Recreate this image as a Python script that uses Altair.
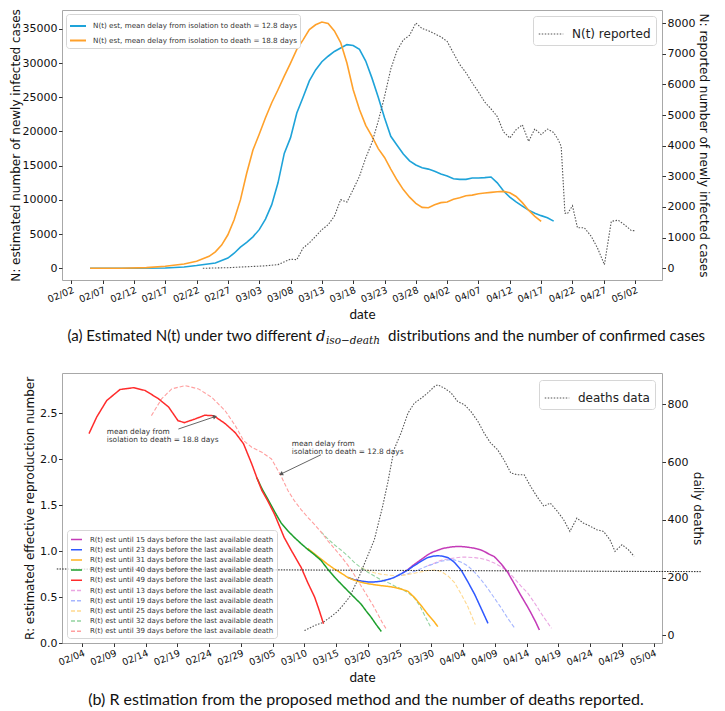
import altair as alt
import pandas as pd

# ====================== Panel (a) data ======================
A_START = "2020-02-02"           # day 0 of panel (a) day offsets
a_tick_labels = ["02/02", "02/07", "02/12", "02/17", "02/22", "02/27", "03/03", "03/08",
                 "03/13", "03/18", "03/23", "03/28", "04/02", "04/07", "04/12", "04/17",
                 "04/22", "04/27", "05/02"]

est128_days = [3, 10, 15, 18, 20, 23, 25, 26, 27, 28, 29, 30, 31, 32, 33, 34, 35, 36, 37, 38,
               39, 40, 41, 42, 43, 44, 45, 46, 47, 48, 49, 50, 51, 52, 53, 54, 55, 56, 57, 58,
               59, 60, 61, 62, 63, 64, 65, 66, 67, 68, 69, 70, 71, 72, 73, 74, 75, 76, 77]
est128_vals = [0, 0, 50, 200, 400, 780, 1500, 2200, 3100, 3800, 4600, 5650, 7200, 9300, 12500,
               16800, 19100, 22700, 25000, 27400, 29000, 30200, 31000, 31700, 32200, 32700, 32560,
               32000, 30300, 27800, 25000, 22000, 19300, 18000, 16700, 15700, 15100, 14700, 14500,
               14200, 13800, 13500, 13100, 13000, 13000, 13200, 13200, 13250, 13350, 12500, 11300,
               10400, 9700, 9100, 8500, 8050, 7700, 7400, 6900]

est188_days = [3, 8, 12, 15, 18, 20, 22, 23, 24, 25, 26, 27, 28, 29, 30, 31, 32, 33, 34, 35, 36,
               37, 38, 39, 40, 41, 42, 43, 44, 45, 46, 47, 48, 49, 50, 51, 52, 53, 54, 55, 56, 57,
               58, 59, 60, 61, 62, 63, 64, 65, 66, 67, 68, 69, 70, 71, 72, 73, 74, 75]
est188_vals = [0, 10, 100, 290, 630, 1020, 1750, 2400, 3400, 4900, 7100, 10000, 13900, 17300,
               19600, 22000, 24200, 26100, 28100, 30000, 32000, 33400, 34900, 35600, 36000, 35800,
               34700, 33000, 30000, 26100, 23200, 20900, 19300, 17500, 16200, 14500, 12900, 11500,
               10400, 9500, 8900, 8850, 9300, 9600, 9700, 10100, 10300, 10600, 10700, 10900, 11000,
               11100, 11200, 11250, 11050, 10500, 9600, 8500, 7600, 6850]

rep_days = [21, 23, 25, 27, 29, 31, 33, 35, 36, 37, 38, 39, 40, 41, 42, 43, 44, 45, 46, 47, 48,
            49, 50, 51, 52, 53, 54, 55, 56, 57, 58, 59, 60, 61, 62, 63, 64, 65, 66, 67, 68, 69,
            70, 71, 72, 73, 74, 75, 76, 77, 77.7, 78.2, 78.8, 79.2, 80, 80.8, 81.9, 83, 84, 85.1,
            86.2, 87.3, 88.3, 89.4, 89.9]
rep_vals = [0, 10, 20, 40, 60, 80, 120, 300, 280, 660, 830, 1040, 1260, 1420, 1700, 2240, 2160,
            2570, 3000, 3600, 4100, 4800, 5600, 6500, 7100, 7450, 7600, 8000, 7820, 7750, 7650,
            7550, 7400, 7020, 6650, 6380, 6050, 5750, 5420, 5200, 4950, 4450, 4250, 4520, 4680,
            4140, 4550, 4360, 4540, 4430, 4200, 3980, 1800, 1780, 2040, 1320, 1320, 1040, 660,
            120, 1530, 1570, 1420, 1230, 1230]

est_labels = ["N(t) est, mean delay from isolation to death = 12.8 days",
              "N(t) est, mean delay from isolation to death = 18.8 days"]
est_colors = ["#1ea3d9", "#ffa12b"]
rep_label = "N(t) reported"

# ====================== Panel (b) data ======================
B_START = "2020-02-04"           # day 0 of panel (b) day offsets
b_tick_labels = ["02/04", "02/09", "02/14", "02/19", "02/24", "02/29", "03/05", "03/10",
                 "03/15", "03/20", "03/25", "03/30", "04/04", "04/09", "04/14", "04/19",
                 "04/24", "04/29", "05/04"]

r49_days = [1.07, 2.28, 3.86, 5.95, 8.06, 9.9, 12.0, 13.6, 15.1, 16.1, 17.8, 19.3, 20.7, 22.5,
            24.1, 25.4, 26.7, 27.5, 28.3, 29.2, 30.3, 31.8, 33.0, 34.5, 35.5, 36.6, 37.3, 38.0]
r49_vals = [2.28, 2.46, 2.64, 2.76, 2.78, 2.75, 2.66, 2.57, 2.42, 2.40, 2.44, 2.48, 2.475, 2.39,
            2.29, 2.17, 1.95, 1.80, 1.66, 1.55, 1.40, 1.15, 1.00, 0.82, 0.66, 0.50, 0.36, 0.21]

r40_days = [27.5, 28.3, 29.2, 30.3, 31.3, 32.4, 33.4, 34.5, 35.5, 36.6, 37.6, 38.6, 39.7, 40.8,
            41.8, 42.8, 43.9, 44.7, 45.5, 46.3, 47.1]
r40_vals = [1.80, 1.68, 1.57, 1.43, 1.31, 1.22, 1.15, 1.08, 1.02, 0.96, 0.90, 0.81, 0.72, 0.64,
            0.57, 0.50, 0.425, 0.35, 0.28, 0.20, 0.126]

r31_days = [35.5, 36.6, 37.6, 38.6, 39.7, 40.8, 41.8, 42.8, 43.9, 45.0, 46.0, 47.0, 48.1, 49.2,
            50.2, 51.3, 52.3, 53.4, 54.4, 55.5, 56.0]
r31_vals = [1.03, 0.97, 0.915, 0.86, 0.806, 0.76, 0.715, 0.685, 0.661, 0.645, 0.635, 0.625,
            0.617, 0.605, 0.588, 0.563, 0.497, 0.406, 0.315, 0.225, 0.178]

r23_days = [41.8, 42.8, 43.9, 45.0, 46.0, 47.0, 48.1, 49.0, 49.6, 50.5, 51.3, 52.0, 52.8, 53.6,
            54.4, 55.2, 56.0, 56.8, 57.6, 58.6, 59.7, 60.7, 61.8, 62.8, 63.9]
r23_vals = [0.715, 0.69, 0.675, 0.665, 0.665, 0.672, 0.69, 0.71, 0.73, 0.765, 0.795, 0.83, 0.865,
            0.90, 0.93, 0.945, 0.951, 0.945, 0.93, 0.88, 0.79, 0.67, 0.53, 0.38, 0.214]

r15_days = [50.5, 51.3, 52.0, 52.8, 53.6, 54.4, 55.2, 56.0, 56.8, 57.6, 58.3, 58.9, 59.6, 60.2,
            61.0, 61.5, 62.2, 62.8, 63.5, 64.0, 64.9, 66.0, 67.0, 68.0, 69.1, 70.0, 70.7, 71.4, 72.0]
r15_vals = [0.765, 0.80, 0.84, 0.88, 0.92, 0.96, 0.99, 1.01, 1.03, 1.04, 1.047, 1.05, 1.05, 1.048,
            1.04, 1.035, 1.025, 1.013, 0.99, 0.97, 0.94, 0.86, 0.77, 0.65, 0.515, 0.41, 0.323,
            0.23, 0.141]

r39_days = [10.9, 12.5, 14.1, 16.2, 18.3, 20.4, 22.5, 24.1, 25.4, 26.7, 28.3, 29.8, 31.3, 32.4,
            33.4, 34.5, 35.5, 36.6, 37.6, 38.6, 39.7, 40.8, 41.8, 42.6, 43.4, 44.2, 45.0, 45.8,
            46.5, 47.2, 47.9]
r39_vals = [2.476, 2.658, 2.767, 2.803, 2.767, 2.675, 2.53, 2.367, 2.204, 2.131, 2.076, 2.004,
            1.82, 1.66, 1.55, 1.45, 1.37, 1.29, 1.21, 1.12, 1.03, 0.94, 0.85, 0.77, 0.68, 0.59,
            0.50, 0.41, 0.32, 0.23, 0.15]

r32_days = [37.6, 38.6, 39.7, 40.8, 41.8, 42.8, 43.9, 45.0, 46.0, 47.0, 48.1, 49.2, 50.2, 51.3,
            52.3, 53.2, 54.0, 54.9]
r32_vals = [1.21, 1.14, 1.07, 1.01, 0.95, 0.88, 0.82, 0.77, 0.73, 0.69, 0.66, 0.62, 0.59, 0.55,
            0.49, 0.40, 0.29, 0.17]

r25_days = [43.9, 45.0, 46.0, 47.0, 48.1, 49.2, 50.2, 51.3, 52.3, 53.4, 54.4, 55.5, 56.5, 57.6,
            58.6, 59.7, 60.7, 61.3, 61.9]
r25_vals = [0.82, 0.79, 0.765, 0.75, 0.74, 0.735, 0.735, 0.745, 0.76, 0.775, 0.79, 0.795, 0.78,
            0.73, 0.66, 0.53, 0.40, 0.30, 0.20]

r19_days = [50.2, 51.3, 52.3, 53.4, 54.4, 55.5, 56.5, 57.6, 58.6, 59.7, 60.7, 61.8, 62.8, 63.9,
            64.9, 66.0, 67.0, 68.1]
r19_vals = [0.735, 0.755, 0.78, 0.81, 0.84, 0.865, 0.89, 0.905, 0.905, 0.88, 0.84, 0.77, 0.69,
            0.59, 0.49, 0.38, 0.27, 0.163]

r13_days = [54.4, 55.5, 56.5, 57.6, 58.6, 59.7, 60.7, 61.8, 62.8, 63.9, 64.9, 66.0, 67.0, 68.1,
            69.1, 70.2, 71.2, 72.3, 73.1, 73.9]
r13_vals = [0.84, 0.87, 0.90, 0.915, 0.925, 0.935, 0.935, 0.93, 0.92, 0.90, 0.87, 0.83, 0.78,
            0.70, 0.62, 0.54, 0.44, 0.32, 0.24, 0.16]

death_days = [35.0, 36.0, 37.0, 37.9, 39.0, 40.2, 41.0, 42.1, 43.4, 44.7, 46.0, 47.3, 48.1, 49.1,
              50.2, 51.3, 52.3, 53.4, 54.4, 55.5, 56.0, 57.0, 58.1, 59.1, 60.2, 61.2, 62.3, 63.3,
              64.3, 65.4, 66.4, 67.5, 68.5, 69.6, 70.6, 71.6, 72.7, 73.7, 74.8, 75.8, 76.8, 77.9,
              78.9, 80.0, 81.0, 82.1, 83.1, 83.9, 85.0, 86.0, 86.9]
death_vals = [17, 28, 38, 45, 62, 83, 103, 133, 193, 262, 331, 446, 527, 643, 700, 769, 804, 821,
              839, 862, 867, 856, 839, 810, 798, 775, 741, 700, 666, 643, 608, 562, 556, 556, 516,
              481, 447, 458, 430, 401, 360, 406, 389, 378, 366, 360, 331, 291, 314, 297, 274]

series_labels = [f"R(t) est until {n} days before the last available death"
                 for n in [15, 23, 31, 40, 49, 13, 19, 25, 32, 39]]
series_colors = ["#c43bb8", "#2f58ff", "#ffb320", "#1c9f2c", "#ff2b2b",
                 "#eaa6e2", "#a6b6ff", "#ffd98f", "#93d3a0", "#ff9f9f"]
solid_series = [(r15_days, r15_vals), (r23_days, r23_vals), (r31_days, r31_vals),
                (r40_days, r40_vals), (r49_days, r49_vals)]
dashed_series = [(r13_days, r13_vals), (r19_days, r19_vals), (r25_days, r25_vals),
                 (r32_days, r32_vals), (r39_days, r39_vals)]
deaths_label = "deaths data"

# threshold-like dotted line drawn across panel (b)
hline_days = [-4.0, 97.4]
hline_vals = [0.806, 0.777]

# annotations (text anchor, arrow tail, arrow head) in panel (b) data units
ann_text = ["mean delay from\nisolation to death = 18.8 days",
            "mean delay from\nisolation to death = 12.8 days"]
ann_text_day = [3.86, 33.0]
ann_text_R = [2.294, 2.168]
ann_tail_day = [15.15, 37.6]
ann_tail_R = [2.33, 2.05]
ann_head_day = [20.92, 31.3]
ann_head_R = [2.465, 1.84]
ann_head_angle = [71, 244]

caption_a = ["(a)  Estimated N(t) under two different", "d", "iso\u2212death",
             "distributions and the number of confirmed cases"]
caption_b = "(b)  R estimation from the proposed method and the number of deaths reported."

# ====================== helpers ======================
W, H = 600, 270
TICK_FONT = "DejaVu Sans"
CAP_FONT = "Lato"


def dates(start, days):
    s = pd.Timestamp(start)
    return [s + pd.Timedelta(days=float(d)) for d in days]


def dt(label, hours=0, minutes=0):
    m, d = label.split("/")
    return alt.DateTime(year=2020, month=int(m), date=int(d), hours=hours, minutes=minutes)


def x_enc(domain, ticks, field="date", title_pad=4):
    return alt.X(f"{field}:T", scale=alt.Scale(domain=domain),
                 axis=alt.Axis(values=[dt(t) for t in ticks], format="%m/%d", labelAngle=-22,
                               labelAlign="right", labelBaseline="top", labelFontSize=9.5,
                               labelPadding=1, tickSize=3.5, title="date", titleFont=CAP_FONT,
                               titleFontSize=13.5, titleFontWeight="normal",
                               titlePadding=title_pad, labelOverlap=False))


def single_legend(offset):
    return alt.Legend(orient="top-right", title=None, symbolType="stroke",
                      symbolDash=[1.5, 1.5], symbolStrokeWidth=1.1, symbolSize=600,
                      labelFontSize=12, labelLimit=0, fillColor="white",
                      strokeColor="#d6d6d6", padding=5, offset=offset, cornerRadius=3,
                      labelColor="#222", labelOffset=8)


# ====================== Panel (a) ======================
xa = x_enc([dt("01/31", 12, 30), dt("05/06", 7, 0)], a_tick_labels)

est_df = pd.concat([
    pd.DataFrame({"date": dates(A_START, est128_days), "value": est128_vals, "s": est_labels[0]}),
    pd.DataFrame({"date": dates(A_START, est188_days), "value": est188_vals, "s": est_labels[1]}),
])
rep_df = pd.DataFrame({"date": dates(A_START, rep_days), "rep": rep_vals, "lab": rep_label})

ya = alt.Y("value:Q", scale=alt.Scale(domain=[-1710, 37760], nice=False, zero=False),
           axis=alt.Axis(values=list(range(0, 35001, 5000)), format="d",
                         title="N: estimated number of newly infected cases", titlePadding=0))
ya_r = alt.Y("rep:Q", scale=alt.Scale(domain=[-382, 8425], nice=False, zero=False),
             axis=alt.Axis(orient="right", values=list(range(0, 8001, 1000)), format="d",
                           title="N: reported number of newly infected cases", titlePadding=2))

est_lines = alt.Chart(est_df).mark_line(strokeWidth=1.6).encode(
    x=xa, y=ya,
    color=alt.Color("s:N", scale=alt.Scale(domain=est_labels, range=est_colors),
                    legend=alt.Legend(orient="top-left", title=None, symbolType="stroke",
                                      symbolStrokeWidth=2, symbolSize=256, labelFontSize=7.2,
                                      labelLimit=0, fillColor="white", strokeColor="#d6d6d6",
                                      padding=3, offset=4, rowPadding=1.5, cornerRadius=3,
                                      labelColor="#333", labelOffset=6)),
    order=alt.Order("date:T"),
)

cap_df = pd.DataFrame({"k": [0]})
CAP_Y = 326
cap_a_layers = [
    alt.Chart(cap_df).mark_text(align="right", baseline="middle", font=CAP_FONT, fontSize=15,
                                color="#111").encode(x=alt.value(250), y=alt.value(CAP_Y),
                                                     text=alt.value(caption_a[0])),
    alt.Chart(cap_df).mark_text(align="left", baseline="middle", font="DejaVu Serif",
                                fontStyle="italic", fontSize=15, color="#111").encode(
        x=alt.value(254), y=alt.value(CAP_Y), text=alt.value(caption_a[1])),
    alt.Chart(cap_df).mark_text(align="left", baseline="middle", font="DejaVu Serif",
                                fontStyle="italic", fontSize=10.5, color="#111").encode(
        x=alt.value(264), y=alt.value(CAP_Y + 5), text=alt.value(caption_a[2])),
    alt.Chart(cap_df).mark_text(align="left", baseline="middle", font=CAP_FONT, fontSize=15,
                                color="#111").encode(x=alt.value(326), y=alt.value(CAP_Y),
                                                     text=alt.value(caption_a[3])),
]

rep_line = alt.Chart(rep_df).mark_line(strokeDash=[1.5, 1.5], strokeWidth=1.1).encode(
    x=xa, y=ya_r,
    color=alt.Color("lab:N", scale=alt.Scale(domain=[rep_label], range=["#555555"]),
                    legend=single_legend(6)),
    order=alt.Order("date:T"),
)

panel_a = alt.layer(alt.layer(est_lines, *cap_a_layers), rep_line).resolve_scale(
    y="independent", color="independent").properties(width=W, height=H)

# ====================== Panel (b) ======================
xb = x_enc([dt("01/31", 19, 41), dt("05/05", 7, 12)], b_tick_labels, title_pad=4)

solid_df = pd.concat([
    pd.DataFrame({"date": dates(B_START, d), "R": v, "series": series_labels[i]})
    for i, (d, v) in enumerate(solid_series)])
dashed_df = pd.concat([
    pd.DataFrame({"date": dates(B_START, d), "R": v, "series": series_labels[5 + i]})
    for i, (d, v) in enumerate(dashed_series)])
deaths_df = pd.DataFrame({"date": dates(B_START, death_days), "deaths": death_vals,
                          "lab": deaths_label})
hline_df = pd.DataFrame({"date": dates(B_START, hline_days), "R": hline_vals})
ann_df = pd.DataFrame({"date": dates(B_START, ann_text_day), "R": ann_text_R, "t": ann_text})
arrow_df = pd.DataFrame({"date": dates(B_START, ann_tail_day), "R": ann_tail_R,
                         "date2": dates(B_START, ann_head_day), "R2": ann_head_R})
head_df = pd.DataFrame({"date": dates(B_START, ann_head_day), "R": ann_head_R,
                        "ang": ann_head_angle})

yb = alt.Y("R:Q", scale=alt.Scale(domain=[0, 2.94], nice=False, zero=False),
           axis=alt.Axis(values=[0, 0.5, 1.0, 1.5, 2.0, 2.5], format=".1f",
                         title="R: estimated effective reproduction number", titlePadding=3))
yb_r = alt.Y("deaths:Q", scale=alt.Scale(domain=[-26, 908], nice=False, zero=False),
             axis=alt.Axis(orient="right", values=[0, 200, 400, 600, 800], format="d",
                           title="daily deaths", titlePadding=3))

series_legend = alt.Legend(orient="bottom-left", title=None, symbolType="stroke",
                           symbolStrokeWidth=1.5, symbolSize=121, labelFontSize=7.0,
                           labelLimit=0, fillColor="rgba(255,255,255,0.8)",
                           strokeColor="#d6d6d6", padding=3, offset=5, rowPadding=0.2,
                           cornerRadius=3, labelColor="#333", labelOffset=7)
col_enc = alt.Color("series:N", scale=alt.Scale(domain=series_labels, range=series_colors),
                    legend=series_legend)
dash_enc = alt.StrokeDash("series:N",
                          scale=alt.Scale(domain=series_labels,
                                          range=[[1, 0]] * 5 + [[4, 2]] * 5),
                          legend=series_legend)

dashed_lines = alt.Chart(dashed_df).mark_line(strokeWidth=1.1).encode(
    x=xb, y=yb, color=col_enc, strokeDash=dash_enc, order=alt.Order("date:T"))
solid_lines = alt.Chart(solid_df).mark_line(strokeWidth=1.5).encode(
    x=xb, y=yb, color=col_enc, strokeDash=dash_enc, order=alt.Order("date:T"))

hline = alt.Chart(hline_df).mark_line(strokeDash=[1.5, 1.2], color="#222", strokeWidth=1,
                                      clip=False).encode(x=xb, y=yb)
arrows = alt.Chart(arrow_df).mark_rule(color="#555", strokeWidth=0.9).encode(
    x=xb, y=yb, x2="date2:T", y2="R2:Q")
heads = alt.Chart(head_df).mark_point(shape="triangle-up", filled=True, size=22, color="#555",
                                      opacity=1).encode(
    x=xb, y=yb, angle=alt.Angle("ang:Q", scale=None))
ann = alt.Chart(ann_df).mark_text(align="left", baseline="middle", fontSize=7.4,
                                  font=TICK_FONT, color="#333", lineBreak="\n",
                                  lineHeight=7.8).encode(x=xb, y=yb, text="t:N")
cap_b = alt.Chart(cap_df).mark_text(align="center", baseline="middle", font=CAP_FONT,
                                    fontSize=16, color="#111").encode(
    x=alt.value(304), y=alt.value(327), text=alt.value(caption_b))

deaths_line = alt.Chart(deaths_df).mark_line(strokeDash=[1.5, 1.5], strokeWidth=1.1).encode(
    x=xb, y=yb_r,
    color=alt.Color("lab:N", scale=alt.Scale(domain=[deaths_label], range=["#555555"]),
                    legend=single_legend(7)),
    order=alt.Order("date:T"),
)

panel_b = alt.layer(
    alt.layer(dashed_lines, solid_lines, hline, arrows, heads, ann, cap_b),
    deaths_line,
).resolve_scale(y="independent", color="independent", strokeDash="independent"
).properties(width=W, height=H)

chart = alt.vconcat(panel_a, panel_b, spacing=25).resolve_scale(
    color="independent", strokeDash="independent", x="independent"
).properties(padding={"left": 0, "top": 0, "right": 0, "bottom": 0}
).configure_view(stroke="#a8a8a8", strokeWidth=1
).configure_axis(labelFont=TICK_FONT, titleFont=TICK_FONT, labelFontSize=11,
                 titleFontSize=12, titleFontWeight="normal", labelColor="#111",
                 titleColor="#111", tickColor="#333", tickSize=3.5, domain=False, grid=False,
                 labelPadding=1.5
).configure_legend(labelFont=TICK_FONT)

chart.save("out.html", embed_options={"renderer": "svg", "actions": False})
